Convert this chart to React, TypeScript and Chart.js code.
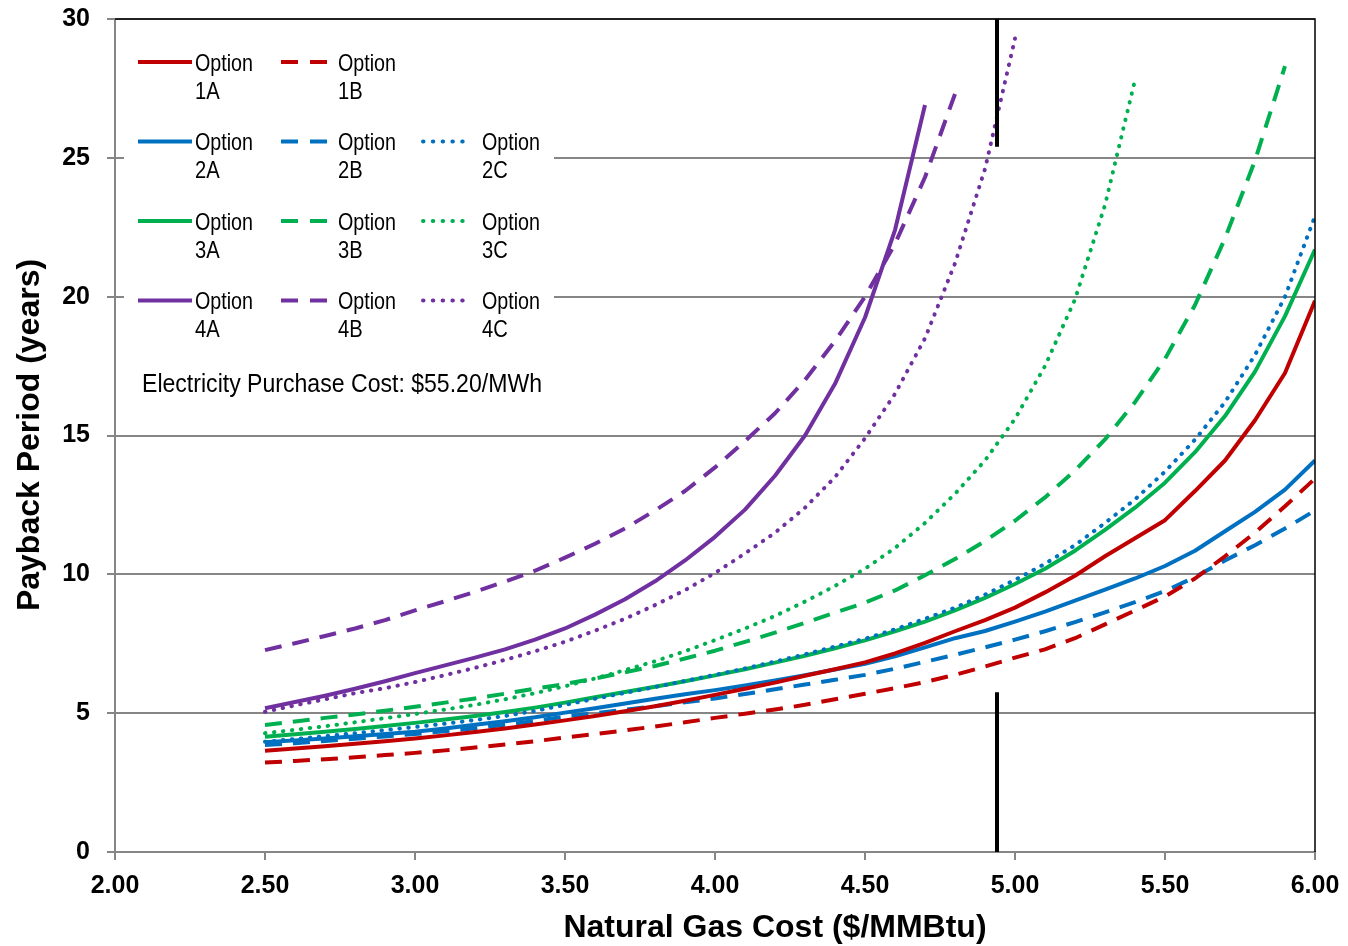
import React, { useEffect, useRef } from 'react';
import { Chart, registerables } from 'chart.js';

Chart.register(...registerables);

// Natural gas cost ($/MMBtu) sampled every 0.10
const gasCost = [
  2.5, 2.6, 2.7, 2.8, 2.9, 3.0, 3.1, 3.2, 3.3, 3.4,
  3.5, 3.6, 3.7, 3.8, 3.9, 4.0, 4.1, 4.2, 4.3, 4.4,
  4.5, 4.6, 4.7, 4.8, 4.9, 5.0, 5.1, 5.2, 5.3, 5.4,
  5.5, 5.6, 5.7, 5.8, 5.9, 6.0,
];

// Payback period (years)
const option1A = [
  3.65, 3.73, 3.81, 3.90, 3.99, 4.09, 4.20, 4.32, 4.45, 4.59,
  4.74, 4.90, 5.07, 5.25, 5.45, 5.66, 5.88, 6.10, 6.35, 6.58,
  6.83, 7.15, 7.53, 7.95, 8.35, 8.80, 9.35, 9.95, 10.65, 11.30,
  11.95, 13.00, 14.10, 15.55, 17.25, 19.85,
];
const option1B = [
  3.22, 3.28, 3.34, 3.41, 3.49, 3.57, 3.66, 3.76, 3.87, 3.99,
  4.12, 4.25, 4.38, 4.52, 4.67, 4.83, 4.98, 5.13, 5.30, 5.50,
  5.70, 5.90, 6.12, 6.38, 6.68, 7.00, 7.30, 7.70, 8.20, 8.70,
  9.20, 9.85, 10.65, 11.50, 12.45, 13.45,
];
const option2A = [
  3.95, 4.02, 4.09, 4.17, 4.25, 4.33, 4.45, 4.58, 4.71, 4.85,
  5.02, 5.18, 5.35, 5.52, 5.68, 5.83, 6.00, 6.18, 6.37, 6.57,
  6.78, 7.05, 7.37, 7.70, 7.96, 8.30, 8.66, 9.05, 9.45, 9.85,
  10.30, 10.85, 11.55, 12.25, 13.05, 14.10,
];
const option2B = [
  3.85, 3.92, 4.00, 4.08, 4.16, 4.25, 4.35, 4.46, 4.58, 4.72,
  4.88, 5.00, 5.12, 5.25, 5.39, 5.53, 5.69, 5.86, 6.03, 6.20,
  6.38, 6.60, 6.85, 7.10, 7.37, 7.65, 7.95, 8.28, 8.63, 9.00,
  9.40, 9.90, 10.50, 11.05, 11.65, 12.30,
];
const option2C = [
  3.97, 4.07, 4.17, 4.28, 4.39, 4.50, 4.62, 4.75, 4.90, 5.08,
  5.30, 5.52, 5.73, 5.94, 6.16, 6.38, 6.61, 6.86, 7.12, 7.40,
  7.68, 8.02, 8.40, 8.80, 9.27, 9.80, 10.38, 11.05, 11.85, 12.70,
  13.70, 14.85, 16.20, 17.90, 20.00, 22.90,
];
const option3A = [
  4.15, 4.24, 4.33, 4.43, 4.54, 4.65, 4.77, 4.90, 5.04, 5.20,
  5.38, 5.57, 5.76, 5.95, 6.15, 6.36, 6.58, 6.82, 7.07, 7.34,
  7.62, 7.95, 8.30, 8.70, 9.15, 9.65, 10.20, 10.85, 11.60, 12.40,
  13.30, 14.40, 15.70, 17.30, 19.30, 21.70,
];
const option3B = [
  4.57, 4.70, 4.83, 4.95, 5.09, 5.23, 5.38, 5.53, 5.70, 5.88,
  6.05, 6.25, 6.47, 6.70, 6.97, 7.25, 7.57, 7.90, 8.25, 8.62,
  8.98, 9.42, 9.97, 10.55, 11.20, 11.93, 12.77, 13.74, 14.86, 16.20,
  17.76, 19.70, 22.10, 24.90, 28.30,
];
const option3C = [
  4.28, 4.40, 4.53, 4.67, 4.82, 4.97, 5.13, 5.30, 5.50, 5.72,
  5.97, 6.25, 6.55, 6.87, 7.23, 7.63, 8.05, 8.50, 9.02, 9.58,
  10.20, 10.95, 11.85, 12.90, 14.10, 15.60, 17.50, 19.90, 23.30, 27.80,
];
const option4A = [
  5.18, 5.40, 5.63, 5.88, 6.15, 6.44, 6.72, 7.00, 7.30, 7.65,
  8.05, 8.55, 9.10, 9.75, 10.50, 11.35, 12.33, 13.55, 15.00, 16.86,
  19.25, 22.40, 26.90,
];
const option4B = [
  7.27, 7.52, 7.78, 8.05, 8.35, 8.70, 9.03, 9.37, 9.74, 10.13,
  10.60, 11.10, 11.65, 12.30, 13.00, 13.85, 14.80, 15.80, 17.00, 18.40,
  20.00, 21.90, 24.30, 27.30,
];
const option4C = [
  5.05, 5.28, 5.50, 5.72, 5.90, 6.12, 6.37, 6.63, 6.92, 7.23,
  7.57, 7.97, 8.40, 8.89, 9.43, 10.05, 10.75, 11.50, 12.40, 13.50,
  14.90, 16.50, 18.50, 21.20, 24.60, 29.30,
];

// Reference gas price marker (vertical black line, drawn in two pieces)
const referenceGas = [4.94, 4.94];
const referenceUpper = [30, 25.4];
const referenceLower = [5.75, 0];

// Axes
const xTickValues = [2.0, 2.5, 3.0, 3.5, 4.0, 4.5, 5.0, 5.5, 6.0];
const yTickValues = [0, 5, 10, 15, 20, 25, 30];

const annotationText = 'Electricity Purchase Cost: $55.20/MWh';
const xTitle = 'Natural Gas Cost ($/MMBtu)';
const yTitle = 'Payback Period (years)';

const RED = '#C00000';
const BLUE = '#0070C0';
const GREEN = '#00B050';
const PURPLE = '#7030A0';
const GRID = '#868686';
const FONT = '"Liberation Sans", Arial, sans-serif';

type LineStyle = 'solid' | 'dash' | 'dot';
interface SeriesDef { key: string; values: number[]; color: string; style: LineStyle; }

const series: SeriesDef[] = [
  { key: '1A', values: option1A, color: RED, style: 'solid' },
  { key: '1B', values: option1B, color: RED, style: 'dash' },
  { key: '2A', values: option2A, color: BLUE, style: 'solid' },
  { key: '2B', values: option2B, color: BLUE, style: 'dash' },
  { key: '2C', values: option2C, color: BLUE, style: 'dot' },
  { key: '3A', values: option3A, color: GREEN, style: 'solid' },
  { key: '3B', values: option3B, color: GREEN, style: 'dash' },
  { key: '3C', values: option3C, color: GREEN, style: 'dot' },
  { key: '4A', values: option4A, color: PURPLE, style: 'solid' },
  { key: '4B', values: option4B, color: PURPLE, style: 'dash' },
  { key: '4C', values: option4C, color: PURPLE, style: 'dot' },
];

const legendRows: (string | null)[][] = [
  ['1A', '1B', null],
  ['2A', '2B', '2C'],
  ['3A', '3B', '3C'],
  ['4A', '4B', '4C'],
];

const dashFor = (s: LineStyle): number[] =>
  s === 'dash' ? [17, 11] : s === 'dot' ? [0.5, 8.5] : [];

const legendPlugin = {
  id: 'customLegend',
  beforeDatasetsDraw(chart: any) {
    const ctx: CanvasRenderingContext2D = chart.ctx;
    const area = chart.chartArea;
    ctx.save();
    ctx.fillStyle = '#ffffff';
    ctx.fillRect(area.left + 9, area.top + 3, 430, 390);

    const cols = [
      { l0: 138, l1: 192, tx: 195 },
      { l0: 281, l1: 328, tx: 338 },
      { l0: 423, l1: 472, tx: 482 },
    ];
    const rowY = [62, 141.5, 221, 300.5];
    const byKey: Record<string, SeriesDef> = {};
    series.forEach((s) => (byKey[s.key] = s));

    legendRows.forEach((row, r) => {
      row.forEach((key, c) => {
        if (!key) return;
        const s = byKey[key];
        const col = cols[c];
        const y = rowY[r];
        ctx.beginPath();
        ctx.strokeStyle = s.color;
        ctx.lineWidth = 4;
        ctx.lineCap = s.style === 'dot' ? 'round' : 'butt';
        ctx.setLineDash(s.style === 'dash' ? [17, 12] : s.style === 'dot' ? [0.5, 9.3] : []);
        ctx.moveTo(col.l0, y);
        ctx.lineTo(col.l1, y);
        ctx.stroke();
        ctx.setLineDash([]);

        ctx.fillStyle = '#000';
        ctx.font = `24px ${FONT}`;
        ctx.textAlign = 'left';
        ctx.textBaseline = 'alphabetic';
        const w1 = ctx.measureText('Option').width * 0.82;
        ctx.fillText('Option', col.tx, y + 8.5, w1);
        const w2 = ctx.measureText(key).width * 0.84;
        ctx.fillText(key, col.tx, y + 36.5, w2);
      });
    });

    ctx.font = `25px ${FONT}`;
    ctx.fillStyle = '#000';
    ctx.textAlign = 'left';
    ctx.textBaseline = 'alphabetic';
    ctx.fillText(annotationText, 142, 392, 400);
    ctx.restore();
  },
  afterDraw(chart: any) {
    const ctx: CanvasRenderingContext2D = chart.ctx;
    const a = chart.chartArea;
    ctx.save();
    // top & right frame
    ctx.strokeStyle = '#000';
    ctx.lineWidth = 1.5;
    ctx.setLineDash([]);
    ctx.beginPath();
    ctx.moveTo(a.left, a.top);
    ctx.lineTo(a.right, a.top);
    ctx.lineTo(a.right, a.bottom);
    ctx.stroke();

    // axis titles
    ctx.fillStyle = '#000';
    ctx.font = `bold 32px ${FONT}`;
    ctx.textAlign = 'center';
    ctx.textBaseline = 'middle';
    ctx.fillText(xTitle, 775, 928);
    ctx.translate(30, 435);
    ctx.rotate(-Math.PI / 2);
    ctx.fillText(yTitle, 0, 0);
    ctx.restore();
  },
};

export default function App() {
  const canvasRef = useRef<HTMLCanvasElement | null>(null);

  useEffect(() => {
    if (!canvasRef.current) return;
    const datasets: any[] = [
      {
        label: 'ref-upper',
        data: referenceGas.map((x, i) => ({ x, y: referenceUpper[i] })),
        borderColor: '#000',
        borderWidth: 4,
        pointRadius: 0,
        fill: false,
      },
      {
        label: 'ref-lower',
        data: referenceGas.map((x, i) => ({ x, y: referenceLower[i] })),
        borderColor: '#000',
        borderWidth: 4,
        pointRadius: 0,
        fill: false,
      },
      ...series.map((s) => ({
        label: 'Option ' + s.key,
        data: s.values.map((v, i) => ({ x: gasCost[i], y: v })),
        borderColor: s.color,
        backgroundColor: s.color,
        borderWidth: 4,
        borderDash: dashFor(s.style),
        borderCapStyle: s.style === 'dot' ? 'round' : 'butt',
        borderJoinStyle: 'round',
        pointRadius: 0,
        tension: 0,
        fill: false,
      })),
    ];

    const chart = new Chart(canvasRef.current, {
      type: 'line',
      data: { datasets },
      options: {
        responsive: false,
        animation: false,
        devicePixelRatio: 1,
        layout: { padding: { top: 19, right: 33, left: 0, bottom: 0 } },
        plugins: {
          legend: { display: false },
          tooltip: { enabled: false },
          title: { display: false },
        },
        scales: {
          x: {
            type: 'linear',
            min: 2,
            max: 6,
            afterBuildTicks: (scale: any) => {
              scale.ticks = xTickValues.map((v) => ({ value: v }));
            },
            afterFit: (scale: any) => {
              scale.height = 94;
              scale.paddingLeft = 0;
              scale.paddingRight = 0;
            },
            ticks: {
              autoSkip: false,
              maxRotation: 0,
              padding: 11,
              color: '#000',
              font: { family: FONT, size: 25, weight: 'bold' },
              callback: (v: any) => Number(v).toFixed(2),
            },
            grid: {
              drawOnChartArea: false,
              drawTicks: true,
              tickLength: 8,
              color: GRID,
              lineWidth: 2,
            },
            border: { color: GRID, width: 2 },
          },
          y: {
            type: 'linear',
            min: 0,
            max: 30,
            afterBuildTicks: (scale: any) => {
              scale.ticks = yTickValues.map((v) => ({ value: v }));
            },
            afterFit: (scale: any) => {
              scale.width = 115;
              scale.paddingTop = 0;
              scale.paddingBottom = 0;
            },
            ticks: {
              padding: 17,
              color: '#000',
              font: { family: FONT, size: 25, weight: 'bold' },
              callback: (v: any) => String(v),
            },
            grid: {
              drawOnChartArea: true,
              drawTicks: true,
              tickLength: 8,
              color: GRID,
              lineWidth: 2,
            },
            border: { color: GRID, width: 2 },
          },
        },
      } as any,
      plugins: [legendPlugin],
    });
    return () => chart.destroy();
  }, []);

  return (
    <div style={{ position: 'absolute', left: 0, top: 0, width: 1348, height: 946, background: '#fff' }}>
      <canvas ref={canvasRef} width={1348} height={946} style={{ width: 1348, height: 946, display: 'block' }} />
    </div>
  );
}
